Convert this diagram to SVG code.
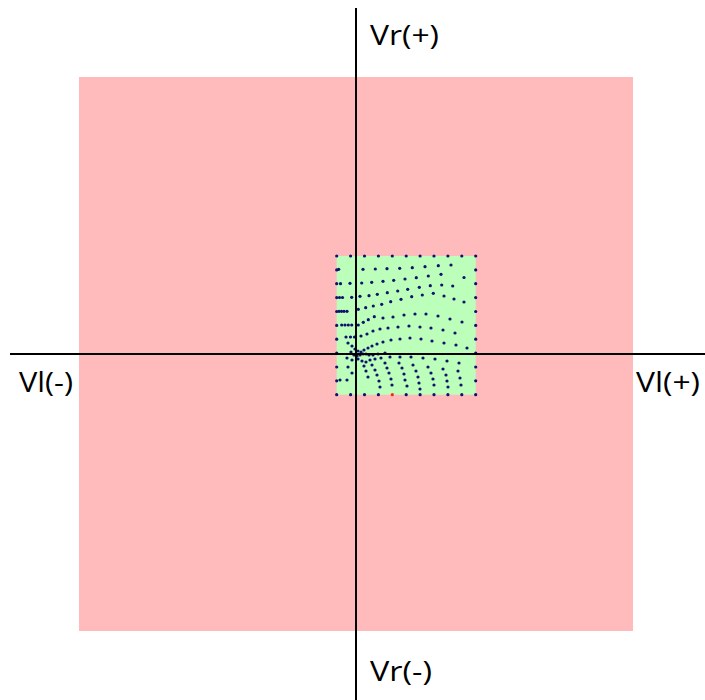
<svg xmlns="http://www.w3.org/2000/svg" width="705" height="700" viewBox="0 0 705 700">
<style>
.d{fill:#10106e}
.r{fill:#ff2020}
circle{r:1.6px}
.ax{stroke:#000;stroke-width:2}
.lbl{font-family:"Open Sans","Noto Sans","DejaVu Sans",sans-serif;font-size:28px;fill:#000}
</style>
<rect width="705" height="700" fill="#fff"/>
<g id="outer-region"><rect x="79" y="77" width="554" height="554" fill="#ffbbbb"/></g>
<g id="inner-region"><rect x="336.7" y="256" width="139" height="138.7" fill="#bbffbb"/></g>
<g id="border-points">
<circle class="d" cx="336.7" cy="256" r="1.6"/><circle class="d" cx="350.6" cy="256" r="1.6"/><circle class="d" cx="364.5" cy="256" r="1.6"/><circle class="d" cx="378.4" cy="256" r="1.6"/><circle class="d" cx="392.3" cy="256" r="1.6"/><circle class="d" cx="406.2" cy="256" r="1.6"/><circle class="d" cx="420.1" cy="256" r="1.6"/><circle class="d" cx="434" cy="256" r="1.6"/><circle class="d" cx="447.9" cy="256" r="1.6"/><circle class="d" cx="461.8" cy="256" r="1.6"/><circle class="d" cx="475.7" cy="256" r="1.6"/>
<circle class="d" cx="336.7" cy="394.7" r="1.6"/><circle class="d" cx="350.6" cy="394.7" r="1.6"/><circle class="d" cx="364.5" cy="394.7" r="1.6"/><circle class="d" cx="378.4" cy="394.7" r="1.6"/><circle class="r" cx="392.3" cy="394.7" r="1.6"/><circle class="d" cx="406.2" cy="394.7" r="1.6"/><circle class="d" cx="420.1" cy="394.7" r="1.6"/><circle class="d" cx="434" cy="394.7" r="1.6"/><circle class="d" cx="447.9" cy="394.7" r="1.6"/><circle class="d" cx="461.8" cy="394.7" r="1.6"/><circle class="d" cx="475.7" cy="394.7" r="1.6"/>
<circle class="d" cx="336.7" cy="269.9" r="1.6"/><circle class="d" cx="336.7" cy="283.7" r="1.6"/><circle class="d" cx="336.7" cy="297.6" r="1.6"/><circle class="d" cx="336.7" cy="311.5" r="1.6"/><circle class="d" cx="336.7" cy="325.4" r="1.6"/><circle class="d" cx="336.7" cy="339.2" r="1.6"/><circle class="d" cx="336.7" cy="353.1" r="1.6"/><circle class="d" cx="336.7" cy="367" r="1.6"/><circle class="d" cx="336.7" cy="380.8" r="1.6"/>
<circle class="d" cx="475.7" cy="269.9" r="1.6"/><circle class="d" cx="475.7" cy="283.7" r="1.6"/><circle class="d" cx="475.7" cy="297.6" r="1.6"/><circle class="d" cx="475.7" cy="311.5" r="1.6"/><circle class="d" cx="475.7" cy="325.4" r="1.6"/><circle class="d" cx="475.7" cy="339.2" r="1.6"/><circle class="d" cx="475.7" cy="353.1" r="1.6"/><circle class="d" cx="475.7" cy="367" r="1.6"/><circle class="d" cx="475.7" cy="380.8" r="1.6"/>
</g>
<g id="mapped-points">
<circle class="d" cx="338.7" cy="269.3" r="1.6"/><circle class="d" cx="363" cy="269.3" r="1.6"/><circle class="d" cx="375.3" cy="269" r="1.6"/><circle class="d" cx="387" cy="268.7" r="1.6"/><circle class="d" cx="399.7" cy="268.3" r="1.6"/><circle class="d" cx="412.3" cy="267.7" r="1.6"/><circle class="d" cx="425" cy="266.7" r="1.6"/><circle class="d" cx="438.3" cy="265.7" r="1.6"/><circle class="d" cx="451" cy="265" r="1.6"/>
<circle class="d" cx="340.5" cy="283.7" r="1.6"/><circle class="d" cx="350" cy="283.3" r="1.6"/><circle class="d" cx="361.7" cy="283" r="1.6"/><circle class="d" cx="371.7" cy="282.3" r="1.6"/><circle class="d" cx="383" cy="281.3" r="1.6"/><circle class="d" cx="393.7" cy="280.3" r="1.6"/><circle class="d" cx="405" cy="279" r="1.6"/><circle class="d" cx="416.3" cy="277.7" r="1.6"/><circle class="d" cx="428.3" cy="276" r="1.6"/><circle class="d" cx="441" cy="274.3" r="1.6"/><circle class="d" cx="464" cy="277.5" r="1.6"/>
<circle class="d" cx="339.5" cy="297.5" r="1.6"/><circle class="d" cx="342.5" cy="297.5" r="1.6"/><circle class="d" cx="351.7" cy="297.3" r="1.6"/><circle class="d" cx="360" cy="296.3" r="1.6"/><circle class="d" cx="369" cy="295.7" r="1.6"/><circle class="d" cx="377.3" cy="294.3" r="1.6"/><circle class="d" cx="387.3" cy="292.7" r="1.6"/><circle class="d" cx="397.7" cy="291" r="1.6"/><circle class="d" cx="407.7" cy="289.3" r="1.6"/><circle class="d" cx="419.3" cy="287.3" r="1.6"/><circle class="d" cx="430.3" cy="285.7" r="1.6"/><circle class="d" cx="441.7" cy="285" r="1.6"/><circle class="d" cx="452.7" cy="286" r="1.6"/>
<circle class="d" cx="339" cy="311.3" r="1.6"/><circle class="d" cx="341.5" cy="311.3" r="1.6"/><circle class="d" cx="344" cy="311.3" r="1.6"/><circle class="d" cx="347" cy="311.3" r="1.6"/><circle class="d" cx="358.3" cy="309.3" r="1.6"/><circle class="d" cx="365.7" cy="307.7" r="1.6"/><circle class="d" cx="373.3" cy="306" r="1.6"/><circle class="d" cx="381.7" cy="304.3" r="1.6"/><circle class="d" cx="390.7" cy="301.7" r="1.6"/><circle class="d" cx="401" cy="299.3" r="1.6"/><circle class="d" cx="411.7" cy="296.7" r="1.6"/><circle class="d" cx="422.3" cy="295" r="1.6"/><circle class="d" cx="433.3" cy="293.3" r="1.6"/><circle class="d" cx="444" cy="296" r="1.6"/><circle class="d" cx="454" cy="299" r="1.6"/><circle class="d" cx="464" cy="302" r="1.6"/>
<circle class="d" cx="341.7" cy="325" r="1.6"/><circle class="d" cx="345" cy="325" r="1.6"/><circle class="d" cx="348.3" cy="325" r="1.6"/><circle class="d" cx="351.7" cy="325" r="1.6"/><circle class="d" cx="358.3" cy="325" r="1.6"/><circle class="d" cx="363.3" cy="322.3" r="1.6"/><circle class="d" cx="368.3" cy="319.7" r="1.6"/><circle class="d" cx="374.3" cy="316.7" r="1.6"/><circle class="d" cx="383" cy="318" r="1.6"/><circle class="d" cx="393" cy="317" r="1.6"/><circle class="d" cx="404" cy="315" r="1.6"/><circle class="d" cx="415" cy="314" r="1.6"/><circle class="d" cx="426" cy="314" r="1.6"/><circle class="d" cx="438" cy="316" r="1.6"/><circle class="d" cx="450" cy="319" r="1.6"/><circle class="d" cx="462" cy="322" r="1.6"/>
<circle class="d" cx="346" cy="337" r="1.6"/><circle class="d" cx="350.5" cy="337" r="1.6"/><circle class="d" cx="354.5" cy="337" r="1.6"/><circle class="d" cx="361" cy="336" r="1.6"/><circle class="d" cx="367" cy="334" r="1.6"/><circle class="d" cx="373" cy="331" r="1.6"/><circle class="d" cx="380" cy="329" r="1.6"/><circle class="d" cx="388" cy="328" r="1.6"/><circle class="d" cx="398" cy="327" r="1.6"/><circle class="d" cx="409" cy="326" r="1.6"/><circle class="d" cx="420" cy="327" r="1.6"/><circle class="d" cx="431" cy="328" r="1.6"/><circle class="d" cx="443" cy="330" r="1.6"/><circle class="d" cx="455" cy="333" r="1.6"/>
<circle class="d" cx="348" cy="343" r="1.6"/><circle class="d" cx="352" cy="346" r="1.6"/><circle class="d" cx="355" cy="349" r="1.6"/><circle class="d" cx="358" cy="351" r="1.6"/><circle class="d" cx="361" cy="352" r="1.6"/><circle class="d" cx="364" cy="350" r="1.6"/><circle class="d" cx="368" cy="348" r="1.6"/><circle class="d" cx="372" cy="346" r="1.6"/><circle class="d" cx="377" cy="344" r="1.6"/><circle class="d" cx="383" cy="342" r="1.6"/><circle class="d" cx="391" cy="340" r="1.6"/><circle class="d" cx="400" cy="339" r="1.6"/><circle class="d" cx="410" cy="338" r="1.6"/><circle class="d" cx="421" cy="339" r="1.6"/><circle class="d" cx="432" cy="341" r="1.6"/><circle class="d" cx="444" cy="343" r="1.6"/><circle class="d" cx="456" cy="345" r="1.6"/><circle class="d" cx="467" cy="348" r="1.6"/>
<circle class="d" cx="351" cy="352" r="1.6"/><circle class="d" cx="354" cy="355" r="1.6"/><circle class="d" cx="357" cy="356" r="1.6"/><circle class="d" cx="360" cy="355" r="1.6"/><circle class="d" cx="363" cy="354" r="1.6"/><circle class="d" cx="366" cy="354" r="1.6"/><circle class="d" cx="369" cy="355" r="1.6"/><circle class="d" cx="373" cy="355" r="1.6"/><circle class="d" cx="378" cy="354" r="1.6"/><circle class="d" cx="385" cy="353" r="1.6"/>
<circle class="d" cx="347" cy="358" r="1.6"/><circle class="d" cx="352" cy="360" r="1.6"/><circle class="d" cx="358" cy="359" r="1.6"/><circle class="d" cx="362" cy="361" r="1.6"/><circle class="d" cx="366" cy="362" r="1.6"/><circle class="d" cx="370" cy="360" r="1.6"/><circle class="d" cx="375" cy="359" r="1.6"/><circle class="d" cx="381" cy="358" r="1.6"/><circle class="d" cx="390" cy="357" r="1.6"/><circle class="d" cx="400" cy="357" r="1.6"/><circle class="d" cx="411" cy="357" r="1.6"/><circle class="d" cx="423" cy="358" r="1.6"/><circle class="d" cx="435" cy="359" r="1.6"/><circle class="d" cx="447" cy="361" r="1.6"/><circle class="d" cx="459" cy="363" r="1.6"/>
<circle class="d" cx="364" cy="366" r="1.6"/><circle class="d" cx="366" cy="371" r="1.6"/><circle class="d" cx="368" cy="377" r="1.6"/>
<circle class="d" cx="372" cy="365" r="1.6"/><circle class="d" cx="375" cy="370" r="1.6"/><circle class="d" cx="377" cy="375" r="1.6"/><circle class="d" cx="379" cy="381" r="1.6"/><circle class="d" cx="380" cy="387" r="1.6"/>
<circle class="d" cx="385" cy="363" r="1.6"/><circle class="d" cx="387" cy="368" r="1.6"/><circle class="d" cx="389" cy="373" r="1.6"/><circle class="d" cx="391" cy="379" r="1.6"/><circle class="d" cx="392" cy="385" r="1.6"/>
<circle class="d" cx="399" cy="363" r="1.6"/><circle class="d" cx="402" cy="368" r="1.6"/><circle class="d" cx="404" cy="374" r="1.6"/><circle class="d" cx="405" cy="380" r="1.6"/><circle class="d" cx="407" cy="386" r="1.6"/>
<circle class="d" cx="413" cy="365" r="1.6"/><circle class="d" cx="416" cy="371" r="1.6"/><circle class="d" cx="418" cy="377" r="1.6"/><circle class="d" cx="419" cy="383" r="1.6"/><circle class="d" cx="420" cy="389" r="1.6"/>
<circle class="d" cx="428" cy="367" r="1.6"/><circle class="d" cx="431" cy="373" r="1.6"/><circle class="d" cx="433" cy="379" r="1.6"/><circle class="d" cx="434" cy="385" r="1.6"/>
<circle class="d" cx="443" cy="369" r="1.6"/><circle class="d" cx="446" cy="375" r="1.6"/><circle class="d" cx="447" cy="381" r="1.6"/><circle class="d" cx="448" cy="387" r="1.6"/>
<circle class="d" cx="458" cy="371" r="1.6"/><circle class="d" cx="460" cy="378" r="1.6"/><circle class="d" cx="461" cy="385" r="1.6"/>
<circle class="d" cx="340" cy="380" r="1.6"/><circle class="d" cx="347" cy="380" r="1.6"/><circle class="d" cx="348" cy="367" r="1.6"/><circle class="d" cx="352" cy="373" r="1.6"/>
</g>
<g id="axes">
<line class="ax" x1="356" y1="8" x2="356" y2="700"/>
<line class="ax" x1="10" y1="354" x2="705" y2="354"/>
</g>
<g id="labels">
<text class="lbl" x="370" y="45" textLength="69" lengthAdjust="spacingAndGlyphs">Vr(+)</text>
<text class="lbl" x="370" y="681" textLength="62" lengthAdjust="spacingAndGlyphs">Vr(-)</text>
<text class="lbl" x="19" y="392" textLength="54" lengthAdjust="spacingAndGlyphs">Vl(-)</text>
<text class="lbl" x="636" y="392" textLength="64" lengthAdjust="spacingAndGlyphs">Vl(+)</text>
</g>
</svg>
